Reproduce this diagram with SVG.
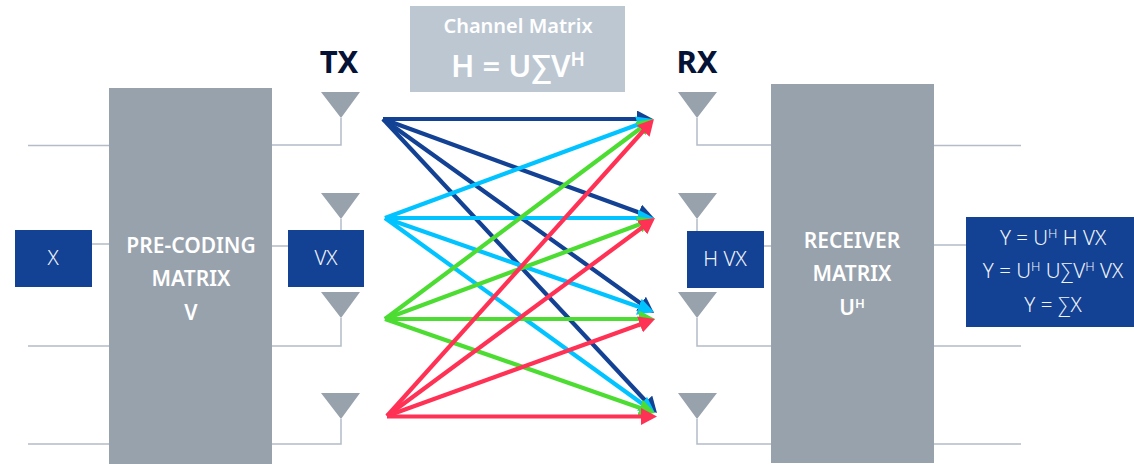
<svg xmlns="http://www.w3.org/2000/svg" width="1134" height="464" viewBox="0 0 1134 464">
<style>
text{font-family:"Noto Sans","Open Sans","Liberation Sans",sans-serif;text-anchor:middle}
.blk{fill:#98a2ad}
.blue{fill:#134193}
.lt{fill:#fff;font-size:21px;font-weight:600}
.bt{fill:#f0f4fb;font-size:20.500px;font-weight:300}
.sup{font-size:13px}
.ant{fill:#98a2ad}
.w{fill:none;stroke:#b4bcc8;stroke-width:1.5}
.n{stroke:#134193}.c{stroke:#00c3ff}.g{stroke:#4cdc32}.r{stroke:#ff3154}
#arrows line{stroke-width:4.2}
</style>
<defs>
<marker id="mn" markerUnits="userSpaceOnUse" markerWidth="18" markerHeight="17" refX="8" refY="8.500" orient="auto"><path d="M0 0L16 8.500L0 17z" fill="#134193"/></marker>
<marker id="mc" markerUnits="userSpaceOnUse" markerWidth="18" markerHeight="17" refX="8" refY="8.500" orient="auto"><path d="M0 0L16 8.500L0 17z" fill="#00c3ff"/></marker>
<marker id="mg" markerUnits="userSpaceOnUse" markerWidth="18" markerHeight="17" refX="8" refY="8.500" orient="auto"><path d="M0 0L16 8.500L0 17z" fill="#4cdc32"/></marker>
<marker id="mr" markerUnits="userSpaceOnUse" markerWidth="18" markerHeight="17" refX="8" refY="8.500" orient="auto"><path d="M0 0L16 8.500L0 17z" fill="#ff3154"/></marker>
</defs>
<g id="wires">
<path class="w" d="M28 145.500H109M28 346H109M28 444H109M92 244H109"/>
<path class="w" d="M272 145H341V118M272 246H288M341 219V230M272 346H341V318M272 444H341V419"/>
<path class="w" d="M771 145H697V118M764 246H771M697 219V231M771 346H697V318M771 444H697V419"/>
<path class="w" d="M934 145.500H1021M934 245H966M934 346H1021M934 444H1021"/>
</g>
<g id="precoding"><rect class="blk" x="109" y="88" width="163" height="376"/>
<text class="lt" x="191" y="253">PRE-CODING</text><text class="lt" x="191" y="286">MATRIX</text><text class="lt" x="191" y="320">V</text></g>
<g id="receiver"><rect class="blk" x="771" y="84" width="163" height="379"/>
<text class="lt" x="852" y="248">RECEIVER</text><text class="lt" x="852" y="281">MATRIX</text><text class="lt" x="852" y="315">U<tspan class="sup" dy="-7">H</tspan></text></g>
<g id="x"><rect class="blue" x="15" y="230" width="77" height="57"/><text class="bt" x="53" y="265">X</text></g>
<g id="vx"><rect class="blue" x="288" y="230" width="76" height="57"/><text class="bt" x="326" y="265">VX</text></g>
<g id="hvx"><rect class="blue" x="687" y="231" width="77" height="57"/><text class="bt" x="725" y="266">H VX</text></g>
<g id="y"><rect class="blue" x="966" y="217" width="168" height="110"/>
<text class="bt" x="1053" y="245">Y = U<tspan class="sup" dy="-7">H</tspan><tspan dy="7"> H VX</tspan></text>
<text class="bt" x="1053" y="278">Y = U<tspan class="sup" dy="-7">H</tspan><tspan dy="7"> U∑V</tspan><tspan class="sup" dy="-7">H</tspan><tspan dy="7"> VX</tspan></text>
<text class="bt" x="1053" y="312">Y = ∑X</text></g>
<g id="channel"><rect x="410" y="6" width="215" height="86" fill="#bdc7d2"/>
<text x="518" y="33" fill="#fff" font-size="20" font-weight="600">Channel Matrix</text>
<text x="518" y="77" fill="#fff" font-size="31" font-weight="600">H = U∑V<tspan font-size="19" dy="-11">H</tspan></text></g>
<g id="tx"><text x="339" y="73" fill="#041235" font-size="31" font-weight="700">TX</text></g>
<g id="rx"><text x="697" y="73" fill="#041235" font-size="31" font-weight="700">RX</text></g>
<g id="tx-antennas"><path class="ant" d="M321 92H360L341 118zM321 193H360L341 219zM321 292H360L341 318zM321 393H360L341 419z"/></g>
<g id="rx-antennas"><path class="ant" d="M678 92H717L697 118zM678 193H717L697 219zM678 292H717L697 318zM678 393H717L697 419z"/></g>
<g id="arrows">
<g class="n">
<line x1="383" y1="119" x2="645" y2="119" marker-end="url(#mn)"/>
<line x1="383" y1="119" x2="646.500" y2="215.300" marker-end="url(#mn)"/>
<line x1="383" y1="119" x2="647.500" y2="308.300" marker-end="url(#mn)"/>
<line x1="383" y1="119" x2="651.500" y2="407.200" marker-end="url(#mn)"/>
</g>
<g class="c">
<line x1="385" y1="218" x2="645.500" y2="121.800" marker-end="url(#mc)"/>
<line x1="385" y1="218" x2="646" y2="218" marker-end="url(#mc)"/>
<line x1="385" y1="218" x2="646.400" y2="309.400" marker-end="url(#mc)"/>
<line x1="385" y1="218" x2="648.500" y2="408.300" marker-end="url(#mc)"/>
</g>
<g class="g">
<line x1="385" y1="319" x2="646.600" y2="123.800" marker-end="url(#mg)"/>
<line x1="385" y1="319" x2="646.500" y2="221.800" marker-end="url(#mg)"/>
<line x1="385" y1="319" x2="647" y2="319" marker-end="url(#mg)"/>
<line x1="385" y1="319" x2="647.500" y2="410.400" marker-end="url(#mg)"/>
</g>
<g class="r">
<line x1="387" y1="416" x2="648.600" y2="125" marker-end="url(#mr)"/>
<line x1="387" y1="416" x2="648.600" y2="222.800" marker-end="url(#mr)"/>
<line x1="387" y1="416" x2="647.500" y2="321.700" marker-end="url(#mr)"/>
<line x1="387" y1="416.500" x2="649" y2="416.500" marker-end="url(#mr)"/>
</g>
</g>
</svg>
